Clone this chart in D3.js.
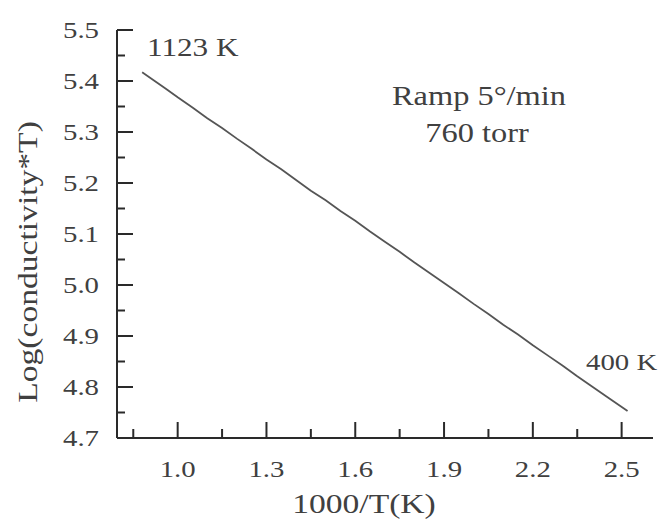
<!DOCTYPE html>
<html lang="en">
<head>
    <meta charset="UTF-8">
    <script src="https://d3js.org/d3.v7.min.js"></script>
    <title>Conductivity vs 1000/T</title>
    <style>
        body { margin: 0; background: #fff; }
        text { font-family: "Liberation Serif", "Times New Roman", serif; fill: #404040; }
    </style>
</head>
<body>
<div id="chart"></div>
<script>
    // data
    const invT = [0.88, 0.92, 0.96, 1.00, 1.05, 1.10, 1.15, 1.20, 1.25, 1.30, 1.35, 1.40, 1.45, 1.50, 1.55, 1.60, 1.65,
                  1.70, 1.75, 1.80, 1.85, 1.90, 1.95, 2.00, 2.05, 2.10, 2.15, 2.20, 2.25, 2.30, 2.35, 2.40, 2.45, 2.52]
    const logCondT = [5.417, 5.401, 5.385, 5.368, 5.348, 5.327, 5.308, 5.287, 5.267, 5.246, 5.227, 5.206, 5.185, 5.166, 5.145, 5.126, 5.105,
                      5.085, 5.065, 5.044, 5.024, 5.004, 4.984, 4.963, 4.943, 4.922, 4.903, 4.882, 4.862, 4.842, 4.821, 4.801, 4.781, 4.753]

    const xMajor = [1.0, 1.3, 1.6, 1.9, 2.2, 2.5]
    const xMinor = [0.85, 1.15, 1.45, 1.75, 2.05, 2.35]
    const yMajor = [4.7, 4.8, 4.9, 5.0, 5.1, 5.2, 5.3, 5.4, 5.5]
    const yMinor = [4.75, 4.85, 4.95, 5.05, 5.15, 5.25, 5.35, 5.45]

    const width = 663
    const height = 521
    const stretch = 1.2   // the scanned lettering is wide

    const svg = d3.select("#chart")
        .append("svg")
        .attr("width", width)
        .attr("height", height)

    const x = d3.scaleLinear().domain([0.795, 2.606]).range([117, 653])
    const y = d3.scaleLinear().domain([4.7, 5.5]).range([438, 30])

    // helper for stretched text
    function label(tx, ty, str, size, anchor, rot) {
        svg.append("text")
            .attr("transform", `translate(${tx},${ty})` + (rot ? ` rotate(${rot})` : "") + ` scale(${stretch},1)`)
            .attr("text-anchor", anchor)
            .style("font-size", size + "px")
            .text(str)
    }

    // axes lines
    svg.append("line")
        .attr("x1", x.range()[0]).attr("x2", x.range()[0])
        .attr("y1", y(5.5)).attr("y2", y(4.7))
        .attr("stroke", "#2a2a2a").attr("stroke-width", 2)
    svg.append("line")
        .attr("x1", x.range()[0]).attr("x2", x.range()[1])
        .attr("y1", y(4.7)).attr("y2", y(4.7))
        .attr("stroke", "#2a2a2a").attr("stroke-width", 2)

    // y ticks (pointing inward)
    svg.selectAll(".ymaj").data(yMajor).join("line")
        .attr("x1", 117).attr("x2", 133)
        .attr("y1", d => y(d)).attr("y2", d => y(d))
        .attr("stroke", "#2a2a2a").attr("stroke-width", 2)
    svg.selectAll(".ymin").data(yMinor).join("line")
        .attr("x1", 117).attr("x2", 125)
        .attr("y1", d => y(d)).attr("y2", d => y(d))
        .attr("stroke", "#2a2a2a").attr("stroke-width", 2)

    // x ticks
    svg.selectAll(".xmaj").data(xMajor).join("line")
        .attr("x1", d => x(d)).attr("x2", d => x(d))
        .attr("y1", 438).attr("y2", 422)
        .attr("stroke", "#2a2a2a").attr("stroke-width", 2)
    svg.selectAll(".xmin").data(xMinor).join("line")
        .attr("x1", d => x(d)).attr("x2", d => x(d))
        .attr("y1", 438).attr("y2", 429)
        .attr("stroke", "#2a2a2a").attr("stroke-width", 2)

    // tick labels
    yMajor.forEach(d => label(99, y(d) + 8, d.toFixed(1), 24, "end"))
    xMajor.forEach(d => label(x(d), 477, d.toFixed(1), 24, "middle"))

    // axis titles
    label(364, 513, "1000/T(K)", 28, "middle")
    label(37, 262, "Log(conductivity*T)", 28, "middle", -90)

    // the measured curve
    const pts = invT.map((v, i) => [v, logCondT[i]])
    svg.append("path")
        .datum(pts)
        .attr("fill", "none")
        .attr("stroke", "#555")
        .attr("stroke-width", 1.8)
        .attr("d", d3.line().x(d => x(d[0])).y(d => y(d[1])))

    // annotations
    label(147, 56, "1123 K", 26, "start")
    label(586, 370, "400 K", 24, "start")
    label(479, 105, "Ramp 5°/min", 27, "middle")
    label(477, 142, "760 torr", 27, "middle")
</script>
</body>
</html>
